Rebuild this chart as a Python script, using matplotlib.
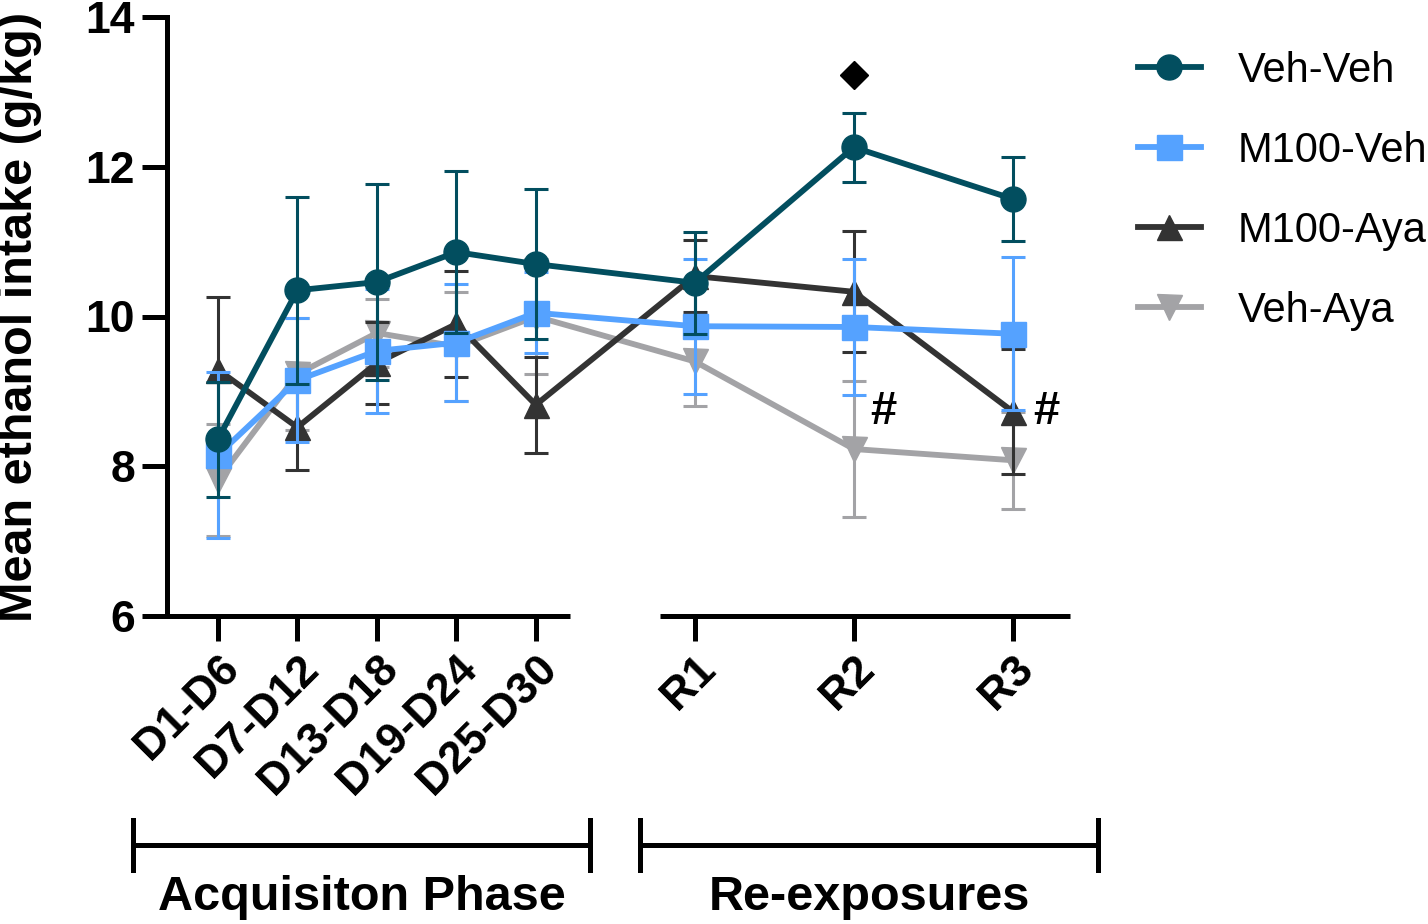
import matplotlib
matplotlib.use("Agg")
import matplotlib.pyplot as plt
from matplotlib.lines import Line2D

plt.rcParams['font.family'] = ['Liberation Sans', 'DejaVu Sans']

# data (mean +/- error)
categories = ['D1-D6', 'D7-D12', 'D13-D18', 'D19-D24', 'D25-D30', 'R1', 'R2', 'R3']
x_pos = [1, 2, 3, 4, 5, 7, 9, 11]

veh_veh = [8.36, 10.35, 10.46, 10.86, 10.70, 10.45, 12.26, 11.57]
veh_veh_err = [0.77, 1.25, 1.31, 1.08, 1.00, 0.68, 0.46, 0.56]
m100_veh = [8.15, 9.15, 9.54, 9.65, 10.05, 9.87, 9.86, 9.77]
m100_veh_err = [1.11, 0.83, 0.83, 0.78, 0.54, 0.90, 0.91, 1.02]
m100_aya = [9.29, 8.52, 9.38, 9.90, 8.82, 10.54, 10.33, 8.73]
m100_aya_err = [0.97, 0.57, 0.55, 0.71, 0.64, 0.48, 0.81, 0.83]
veh_aya = [7.82, 9.23, 9.78, 9.60, 10.00, 9.40, 8.23, 8.08]
veh_aya_err = [0.75, 0.75, 0.46, 0.73, 0.77, 0.60, 0.91, 0.65]

# significance marks
diamond_x, diamond_y = [9], [13.23]
hash_x = [9.37, 11.42]
hash_y = [8.72, 8.72]

series = [
    ('Veh-Aya', veh_aya, veh_aya_err, '#A3A3A6', 'v'),
    ('M100-Aya', m100_aya, m100_aya_err, '#333333', '^'),
    ('M100-Veh', m100_veh, m100_veh_err, '#55A2FF', 's'),
    ('Veh-Veh', veh_veh, veh_veh_err, '#024E5F', 'o'),
]

fig = plt.figure(figsize=(14.28, 9.24), dpi=100)
ax = fig.add_axes([167/1428, 1-616/924, 903/1428, 599/924])

handles = {}
z = 3
for name, vals, err, col, mk in series:
    ln, = ax.plot(x_pos, vals, color=col, lw=4.2, marker=mk, ms=18,
                  mec=col, mfc=col, zorder=z, clip_on=False)
    ax.errorbar(x_pos, vals, yerr=err, fmt='none', ecolor=col, elinewidth=2.2,
                capsize=8.6, capthick=2.2, zorder=z+0.5, clip_on=False)
    handles[name] = ln
    z += 1

ax.plot(diamond_x, diamond_y, 'D', color='black', ms=14.5, clip_on=False)
for hx, hy in zip(hash_x, hash_y):
    ax.text(hx, hy, '#', fontsize=34, fontweight='bold', ha='center', va='center')

ax.set_xlim(0.36, 11.72)
ax.set_ylim(6, 14)
ax.set_yticks([6, 8, 10, 12, 14])
ax.set_xticks(x_pos)
ax.set_xticklabels(categories, rotation=45, ha='right', va='top',
                   rotation_mode='anchor')
for lab in ax.get_xticklabels() + ax.get_yticklabels():
    lab.set_fontsize(32)
    lab.set_fontweight('bold')
ax.tick_params(axis='both', direction='out', length=18, width=3.6)
ax.tick_params(axis='y', pad=5)
ax.tick_params(axis='x', pad=5)

for s in ['top', 'right', 'bottom']:
    ax.spines[s].set_visible(False)
ax.spines['left'].set_linewidth(3.6)

# broken x axis
trans = ax.get_xaxis_transform()
ax.plot([0.36, 5.43], [0, 0], color='black', lw=3.6, transform=trans,
        clip_on=False, solid_capstyle='butt')
ax.plot([6.56, 11.72], [0, 0], color='black', lw=3.6, transform=trans,
        clip_on=False, solid_capstyle='butt')

ax.set_ylabel('Mean ethanol intake (g/kg)', fontsize=35, fontweight='bold')
ax.yaxis.set_label_coords(-0.163, 0.5)
ax.yaxis.label.set_va('center')

# phase brackets
for x0, x1, txt in [(133, 590, 'Acquisiton Phase'), (640, 1098, 'Re-exposures')]:
    fx0, fx1 = x0/1428, x1/1428
    yb = 1-845/924
    fig.add_artist(Line2D([fx0, fx1], [yb, yb], color='black', lw=3.6))
    for fx in (fx0, fx1):
        fig.add_artist(Line2D([fx, fx], [1-820/924, 1-870/924], color='black', lw=3.6))
    fig.text((fx0+fx1)/2, 1-897/924, txt, fontsize=35, fontweight='bold',
             ha='center', va='center')

names = ['Veh-Veh', 'M100-Veh', 'M100-Aya', 'Veh-Aya']
ax.legend([handles[n] for n in names], names, loc='upper left',
          bbox_to_anchor=(1138/1428, 1-51/924), bbox_transform=fig.transFigure,
          frameon=False, fontsize=30, handlelength=1.5, handletextpad=0.9,
          labelspacing=0.96, borderpad=0, borderaxespad=0)

fig.savefig('out.png', dpi=100)
